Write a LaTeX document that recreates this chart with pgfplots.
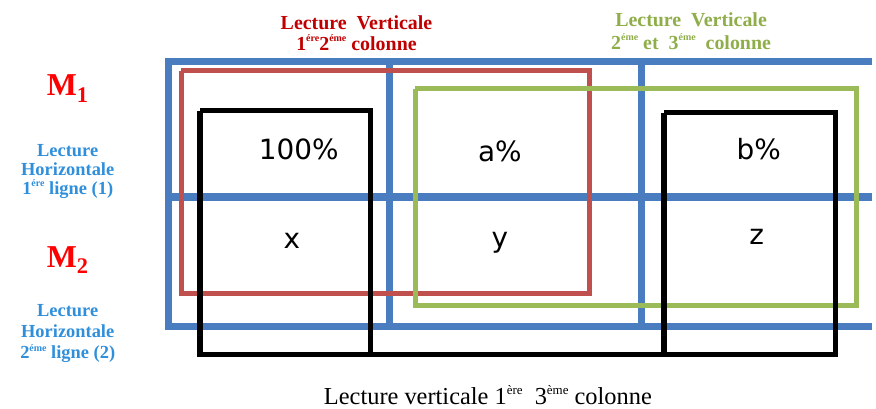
\documentclass[border=0pt]{standalone}
\usepackage{pgfplots}
\pgfplotsset{compat=1.18}
\usepackage{fontspec}
\setmainfont{Liberation Serif}
\newfontfamily\cellfont{DejaVu Sans}

\definecolor{gridblue}{HTML}{4A7DC0}
\definecolor{boxred}{HTML}{C0504D}
\definecolor{boxgreen}{HTML}{9BBB59}
\definecolor{titlered}{HTML}{C00000}
\definecolor{mred}{HTML}{FF0000}
\definecolor{txtblue}{HTML}{2F8FDB}
\definecolor{txtgreen}{HTML}{8FAE4A}

% exposant petit (taille, texte)
\newcommand\up[2]{\raisebox{0.42em}{\fontsize{#1}{#1}\selectfont #2}}

\begin{document}
\begin{tikzpicture}
\path (0,0) rectangle (876pt,409pt);
\begin{axis}[hide axis, scale only axis,
    width=876pt, height=409pt,
    xmin=0, xmax=876, ymin=0, ymax=409,
    y dir=reverse, clip=false,
    every axis plot/.append style={no marks, sharp plot, line join=miter, line cap=butt},
  ]
% grille bleue
\addplot[gridblue, line width=7.5pt] coordinates {(876,62) (169,62) (169,328) (876,328)};
\addplot[gridblue, line width=7.5pt] coordinates {(169,198) (876,198)};
\addplot[gridblue, line width=7.5pt] coordinates {(391,62) (391,328)};
\addplot[gridblue, line width=7.5pt] coordinates {(644,62) (644,328)};
% cadre rouge
\addplot[boxred, line width=5pt] coordinates {(182,71) (592,71) (592,295) (182,295) (182,71)};
% cadre vert
\addplot[boxgreen, line width=5pt] coordinates {(417,89) (860,89) (860,307) (417,307) (417,89)};
% cadres noirs
\addplot[black, line width=5.5pt] coordinates {(201,111) (372,111) (372,356) (201,356) (201,111)};
\addplot[black, line width=5.5pt] coordinates {(667,113) (839,113) (839,356) (667,356) (667,113)};
\addplot[black, line width=5.5pt] coordinates {(201,356) (839,356)};

% titres
\node[font=\fontsize{20}{22}\selectfont\bfseries, text=titlered] at (axis cs:358,23) {Lecture\ \ Verticale};
\node[font=\fontsize{20}{22}\selectfont\bfseries, text=titlered] at (axis cs:358,43) {1\up{10}{ére}2\up{10}{éme} colonne};
\node[font=\fontsize{20}{22}\selectfont\bfseries, text=txtgreen] at (axis cs:694,20) {Lecture\ \ Verticale};
\node[font=\fontsize{20}{22}\selectfont\bfseries, text=txtgreen] at (axis cs:694,42) {2\up{10}{éme} et\ \ 3\up{10}{éme}\ \ colonne};

% lignes
\node[font=\fontsize{32}{34}\selectfont\bfseries, text=mred] at (axis cs:68,89) {M\textsubscript{1}};
\node[font=\fontsize{18.5}{20}\selectfont\bfseries, text=txtblue] at (axis cs:68,151) {Lecture};
\node[font=\fontsize{18.5}{20}\selectfont\bfseries, text=txtblue] at (axis cs:68,170) {Horizontale};
\node[font=\fontsize{18.5}{20}\selectfont\bfseries, text=txtblue] at (axis cs:68,190) {1\up{10}{ére} ligne (1)};
\node[font=\fontsize{32}{34}\selectfont\bfseries, text=mred] at (axis cs:68,261) {M\textsubscript{2}};
\node[font=\fontsize{18.5}{20}\selectfont\bfseries, text=txtblue] at (axis cs:68,312) {Lecture};
\node[font=\fontsize{18.5}{20}\selectfont\bfseries, text=txtblue] at (axis cs:68,333) {Horizontale};
\node[font=\fontsize{18.5}{20}\selectfont\bfseries, text=txtblue] at (axis cs:68,355) {2\up{10}{éme} ligne (2)};

% cellules
\node[font=\cellfont\fontsize{28}{30}\selectfont] at (axis cs:300,150) {100\%};
\node[font=\cellfont\fontsize{28}{30}\selectfont] at (axis cs:502,152) {a\%};
\node[font=\cellfont\fontsize{28}{30}\selectfont] at (axis cs:762,150) {b\%};
\node[font=\cellfont\fontsize{28}{30}\selectfont] at (axis cs:293,242) {x};
\node[font=\cellfont\fontsize{28}{30}\selectfont] at (axis cs:502,244) {y};
\node[font=\cellfont\fontsize{28}{30}\selectfont] at (axis cs:760,238) {z};

% bas
\node[font=\fontsize{24.5}{26}\selectfont] at (axis cs:490,397) {Lecture verticale 1\up{13}{ère}\ \ 3\up{13}{ème} colonne};
\end{axis}
\end{tikzpicture}
\end{document}
